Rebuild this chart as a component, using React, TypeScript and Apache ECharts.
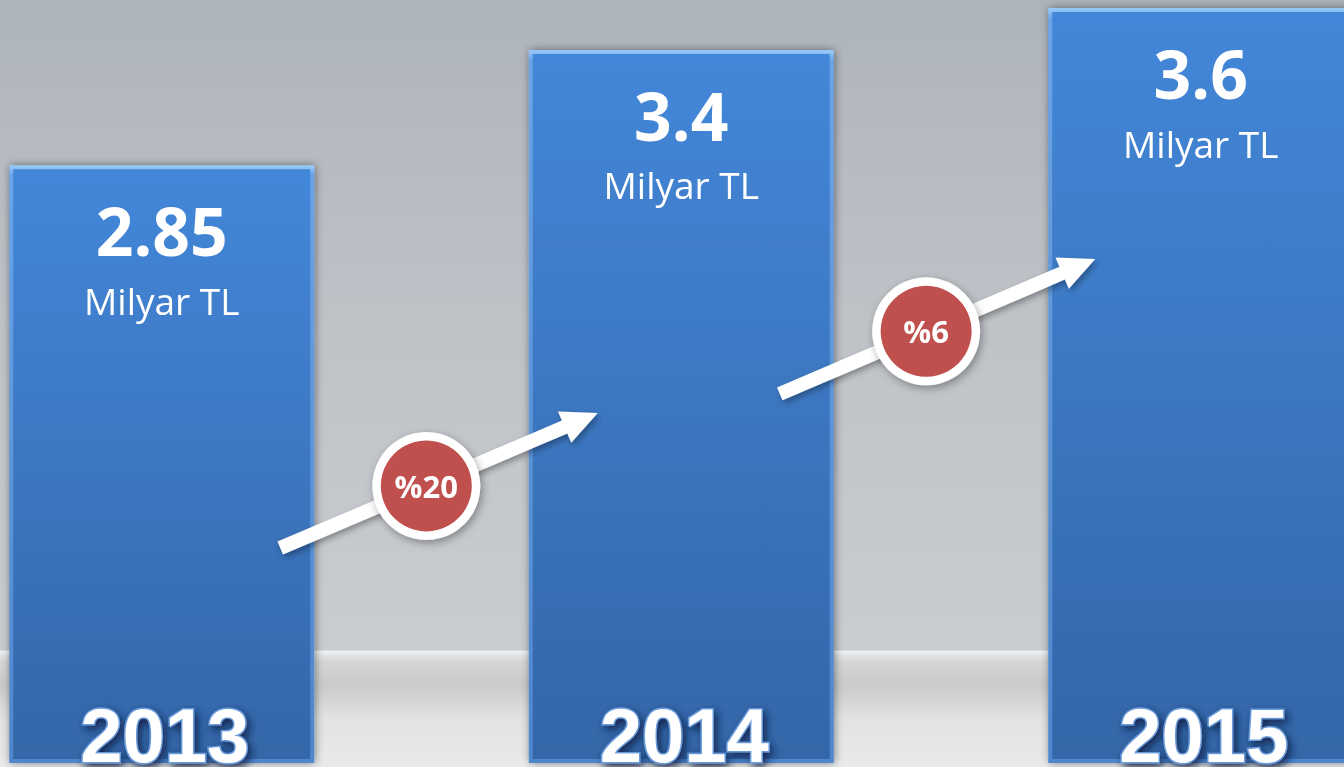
import React, { useEffect, useRef } from 'react';
import * as echarts from 'echarts';

// ---- data ----
const years = ['2013', '2014', '2015'];
const values = [2.85, 3.4, 3.6];
const unitLabel = 'Milyar TL';
const growthLabels = ['%20', '%6'];
const growthPairs = [
  [0, 1],
  [1, 2],
];

// ---- layout of decorative arrows (px offsets from category centres, y in value units) ----
const ARROW_LAYOUT = [
  { dx0: 118.5, y0: 1.025, dx1: -83.5, y1: 1.669, t: 0.46 },
  { dx0: 98.5, y0: 1.76, dx1: -105.5, y1: 2.403, t: 0.464 },
];

const W = 1344;
const H = 767;

export default function App() {
  const ref = useRef<HTMLDivElement>(null);

  useEffect(() => {
    if (!ref.current) return;
    const chart = echarts.init(ref.current, undefined, { renderer: 'svg' });

    const option: any = {
      animation: false,
      backgroundColor: 'transparent',
      graphic: [
        {
          type: 'rect',
          z: 0,
          silent: true,
          shape: { x: 0, y: 0, width: W, height: 651 },
          style: {
            fill: {
              type: 'linear', x: 0, y: 0, x2: 0, y2: 1,
              colorStops: [
                { offset: 0, color: '#aeb4bb' },
                { offset: 0.5, color: '#bfc3c8' },
                { offset: 1, color: '#c9ccd0' },
              ],
            },
          },
        },
        {
          type: 'rect',
          z: 0,
          silent: true,
          shape: { x: 0, y: 650, width: W, height: H - 650 },
          style: {
            fill: {
              type: 'linear', x: 0, y: 0, x2: 0, y2: 1,
              colorStops: [
                { offset: 0, color: '#d0d2d5' },
                { offset: 0.012, color: '#f0f1f2' },
                { offset: 0.04, color: '#e4e5e6' },
                { offset: 0.1, color: '#d5d6d8' },
                { offset: 0.3, color: '#c9cacc' },
                { offset: 0.58, color: '#e1e2e4' },
                { offset: 1, color: '#e9eaec' },
              ],
            },
          },
        },
      ],
      grid: {
        left: -98,
        width: 1558.5,
        top: 8,
        bottom: 4,
        containLabel: false,
        outerBoundsMode: 'none',
      },
      xAxis: {
        type: 'category',
        data: years,
        axisLine: { show: false },
        axisTick: { show: false },
        splitLine: { show: false },
        z: 10,
        axisLabel: {
          inside: true,
          margin: 1,
          padding: [0, 0, 0, 6],
          lineHeight: 54,
          color: '#ffffff',
          fontFamily: 'Liberation Sans',
          fontWeight: 'bold',
          fontSize: 76,
          textBorderColor: 'rgba(110,160,225,0.9)',
          textBorderWidth: 3,
          textShadowColor: 'rgba(12,30,70,0.9)',
          textShadowBlur: 8,
          textShadowOffsetX: 3,
          textShadowOffsetY: 4,
        },
      },
      yAxis: {
        type: 'value',
        min: 0,
        max: 3.6,
        show: false,
        splitLine: { show: false },
      },
      series: [
        {
          type: 'bar',
          data: values,
          barWidth: 305,
          z: 2,
          itemStyle: {
            color: {
              type: 'linear', x: 0, y: 0, x2: 0, y2: 1,
              colorStops: [
                { offset: 0, color: '#4387d9' },
                { offset: 1, color: '#3466a8' },
              ],
            },
            borderColor: {
              type: 'linear', x: 0, y: 0, x2: 0, y2: 1,
              colorStops: [
                { offset: 0, color: '#93c5f7' },
                { offset: 0.012, color: '#6aa3e6' },
                { offset: 1, color: '#4f86cc' },
              ],
            },
            borderWidth: 4,
            shadowColor: 'rgba(0,0,0,0.45)',
            shadowBlur: 8,
            shadowOffsetX: 1,
            shadowOffsetY: 0,
          },
          label: {
            show: true,
            position: 'insideTop',
            distance: 27,
            formatter: (p: any) => `{v|${p.value}}\n{u|${unitLabel}}`,
            rich: {
              v: {
                fontFamily: 'Open Sans',
                fontWeight: 'bold',
                fontSize: 66,
                lineHeight: 76,
                color: '#ffffff',
                align: 'center',
              },
              u: {
                fontFamily: 'Open Sans',
                fontSize: 37,
                lineHeight: 64,
                color: '#ffffff',
                align: 'center',
              },
            },
          },
        },
        {
          type: 'custom',
          z: 5,
          data: growthPairs,
          encode: { x: 0 },
          renderItem: (params: any, api: any) => {
            const i = params.dataIndex;
            const L = ARROW_LAYOUT[i];
            const a = api.coord([api.value(0), L.y0]);
            const b = api.coord([api.value(1), L.y1]);
            const T = [a[0] + L.dx0, a[1]];
            const P = [b[0] + L.dx1, b[1]];
            const dx = P[0] - T[0];
            const dy = P[1] - T[1];
            const len = Math.sqrt(dx * dx + dy * dy);
            const ux = dx / len;
            const uy = dy / len;
            const nx = -uy;
            const ny = ux;
            const w = 7;
            const hl = 36;
            const hw = 17;
            const B = [P[0] - ux * hl, P[1] - uy * hl];
            const pts = [
              [T[0] + nx * w, T[1] + ny * w],
              [B[0] + nx * w, B[1] + ny * w],
              [B[0] + nx * hw, B[1] + ny * hw],
              P,
              [B[0] - nx * hw, B[1] - ny * hw],
              [B[0] - nx * w, B[1] - ny * w],
              [T[0] - nx * w, T[1] - ny * w],
            ];
            const cx = T[0] + dx * L.t;
            const cy = T[1] + dy * L.t;
            return {
              type: 'group',
              children: [
                {
                  type: 'polygon',
                  shape: { points: pts },
                  style: {
                    fill: '#ffffff',
                    shadowColor: 'rgba(0,0,0,0.35)',
                    shadowBlur: 6,
                    shadowOffsetX: 2,
                    shadowOffsetY: 3,
                  },
                },
                {
                  type: 'circle',
                  shape: { cx, cy, r: 54 },
                  style: {
                    fill: '#ffffff',
                    shadowColor: 'rgba(0,0,0,0.35)',
                    shadowBlur: 8,
                    shadowOffsetX: 2,
                    shadowOffsetY: 3,
                  },
                },
                {
                  type: 'circle',
                  shape: { cx, cy, r: 45.5 },
                  style: { fill: '#c0504d' },
                },
                {
                  type: 'text',
                  style: {
                    text: growthLabels[i],
                    x: cx,
                    y: cy,
                    align: 'center',
                    verticalAlign: 'middle',
                    fill: '#ffffff',
                    fontFamily: 'Open Sans',
                    fontWeight: 'bold',
                    fontSize: 31,
                  },
                },
              ],
            };
          },
        },
      ],
    };

    chart.setOption(option);
    return () => chart.dispose();
  }, []);

  return (
    <div
      ref={ref}
      style={{ position: 'fixed', left: 0, top: 0, width: W, height: H }}
    />
  );
}
